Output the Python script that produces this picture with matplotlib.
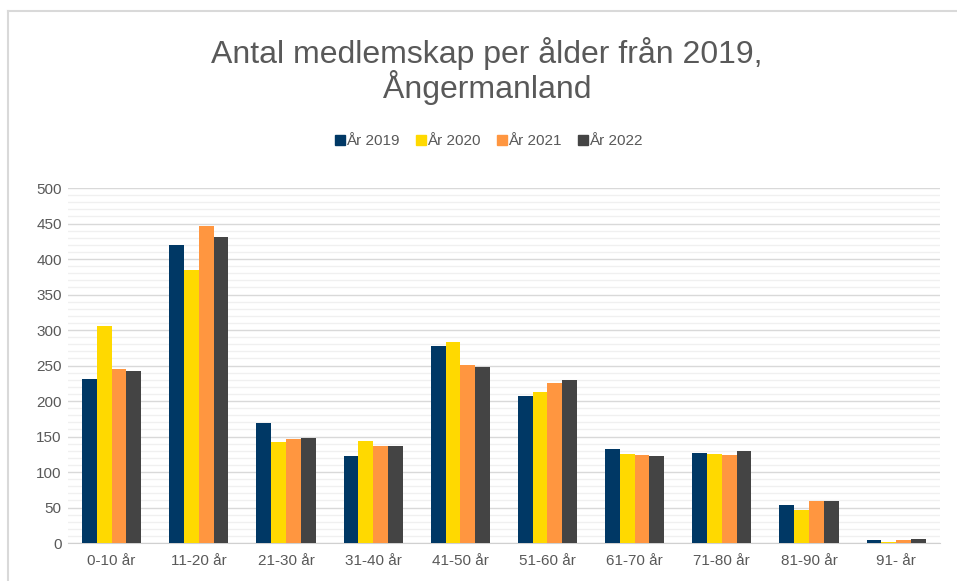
import numpy as np
import matplotlib.pyplot as plt
from matplotlib.lines import Line2D

plt.rcParams['font.family'] = ['Liberation Sans', 'DejaVu Sans']

categories = ['0-10 år', '11-20 år', '21-30 år', '31-40 år', '41-50 år',
              '51-60 år', '61-70 år', '71-80 år', '81-90 år', '91- år']
y2019 = [231, 420, 169, 123, 277, 207, 133, 127, 54, 4]
y2020 = [306, 384, 142, 143, 283, 212, 125, 126, 47, 2]
y2021 = [245, 447, 146, 136, 251, 225, 124, 124, 59, 4]
y2022 = [242, 431, 148, 137, 248, 229, 122, 129, 59, 6]
series = [('År 2019', y2019, '#003865'),
          ('År 2020', y2020, '#FFD900'),
          ('År 2021', y2021, '#FF9640'),
          ('År 2022', y2022, '#444444')]

txt = '#595959'

fig = plt.figure(figsize=(9.57, 5.81), dpi=100)
ax = fig.add_axes([0.0711, 0.0654, 0.9109, 0.611])

x = np.arange(len(categories))
w = 0.17
for i, (name, vals, col) in enumerate(series):
    ax.bar(x + (i - 1.5) * w, vals, w, color=col, label=name, zorder=3)

ax.set_xlim(-0.5, len(categories) - 0.5)
ax.set_ylim(0, 500)
ax.set_yticks(range(0, 501, 50))
ax.set_yticks(range(0, 501, 10), minor=True)
ax.set_xticks(x)
ax.set_xticklabels(categories)
ax.grid(axis='y', which='major', color='#d9d9d9', linewidth=1, zorder=0)
ax.grid(axis='y', which='minor', color='#f0f0f0', linewidth=1, zorder=0)
for s in ['top', 'right', 'left']:
    ax.spines[s].set_visible(False)
ax.spines['bottom'].set_color('#d0d0d0')
ax.tick_params(axis='both', which='both', length=0, colors=txt, labelsize=11)
ax.tick_params(axis='y', pad=4.5)
ax.tick_params(axis='x', pad=8)

fig.text(0.509, 0.878, 'Antal medlemskap per ålder från 2019,\nÅngermanland',
         ha='center', va='center', fontsize=23, color=txt, linespacing=1.0)

handles = [Line2D([], [], marker='s', linestyle='none', markersize=6.5,
                  color=col) for _, _, col in series]
fig.legend(handles, [s[0] for s in series], loc='center', ncol=4,
           bbox_to_anchor=(0.51, 0.757), frameon=False, fontsize=11,
           handlelength=0.8, handletextpad=0.0, columnspacing=1.0,
           labelcolor=txt)

# chart frame
fig.add_artist(Line2D([0.008, 0.008], [0, 0.981], color='#d9d9d9', lw=1.5,
                      transform=fig.transFigure))
fig.add_artist(Line2D([0.008, 1.0], [0.981, 0.981], color='#d9d9d9', lw=1.5,
                      transform=fig.transFigure))

fig.savefig('out.png', dpi=100)
